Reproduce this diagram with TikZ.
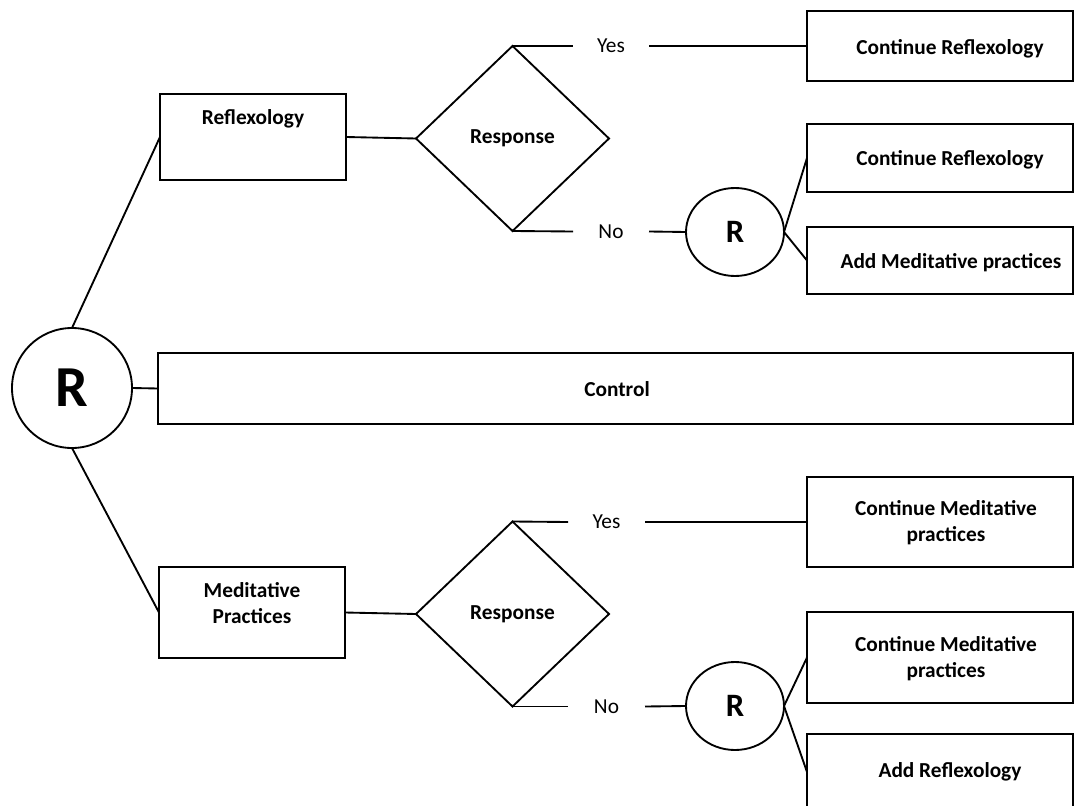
\documentclass[tikz,border=0pt]{standalone}
\usepackage{fontspec}
\setmainfont{Carlito}
\usetikzlibrary{shapes.geometric}
\begin{document}
\begin{tikzpicture}[x=0.75pt,y=-0.75pt,line width=1.4pt,
  every node/.style={outer sep=0pt},
  box/.style={draw,rectangle,inner sep=0pt},
  lbl/.style={font=\fontsize{16}{19.5}\selectfont\bfseries,align=center,inner sep=0pt},
  gap/.style={font=\fontsize{16}{19.5}\selectfont,inner sep=0pt,minimum height=12pt},
  dec/.style={draw,diamond,inner sep=0pt,minimum width=144.75pt,minimum height=138.75pt,font=\fontsize{16}{19.5}\selectfont\bfseries},
  rnd/.style={draw,ellipse,inner sep=0pt,minimum width=73.5pt,minimum height=66pt,font=\fontsize{24.5}{28}\selectfont\bfseries},
  bigrnd/.style={draw,circle,inner sep=0pt,minimum size=90pt,font=\fontsize{43.5}{48}\selectfont\bfseries},
  rbox/.style={box,minimum width=199.5pt}
]
\useasboundingbox (0,0) rectangle (1074,806);

% root
\node[bigrnd] (C) at (72,388) {R};

% upper branch
\node[box,minimum width=139.5pt,minimum height=64.5pt] (refl) at (253,137) {};
\node[lbl] (refltxt) at (253,119) {Reflexology};
\node[dec] (d1) at (512.5,138.5) {Response};
\node[gap,minimum width=57pt] (yes1) at (611,46) {Yes};
\node[gap,minimum width=57pt] (no1) at (611,231.5) {No};
\node[rbox,minimum height=52.5pt] (cr1) at (940,46) {};
\node[lbl] (cr1txt) at (950,49) {Continue Reflexology};
\node[rnd] (e1) at (735,232) {R};
\node[rbox,minimum height=51pt] (cr2) at (940,158) {};
\node[lbl] (cr2txt) at (950,160) {Continue Reflexology};
\node[rbox,minimum height=50.25pt] (amp) at (940,260.5) {};
\node[lbl] (amptxt) at (951,263) {Add Meditative practices};

% control
\node[box,minimum width=686.25pt,minimum height=53.25pt] (ctrl) at (615.5,388.5) {};
\node[lbl] (ctrltxt) at (617,389) {Control};

% lower branch
\node[box,minimum width=139.5pt,minimum height=68.25pt] (med) at (252,612.5) {};
\node[lbl] (medtxt) at (252,603.5) {Meditative\\Practices};
\node[dec] (d2) at (512.5,614) {Response};
\node[gap,minimum width=57.75pt] (yes2) at (606.5,522) {Yes};
\node[gap,minimum width=57.75pt] (no2) at (606.5,706.5) {No};
\node[rbox,minimum height=67.5pt] (cmp1) at (940,522) {};
\node[lbl] (cmp1txt) at (946,522.5) {Continue Meditative\\practices};
\node[rnd] (e2) at (735,706) {R};
\node[rbox,minimum height=68.25pt] (cmp2) at (940,657.5) {};
\node[lbl] (cmp2txt) at (946,659) {Continue Meditative\\practices};
\node[rbox,minimum height=57pt] (ar) at (940,772) {};
\node[lbl] (artxt) at (950,772) {Add Reflexology};

% connectors
\draw (C.north) -- (refl.west);
\draw (C.east) -- (ctrl.west);
\draw (C.south) -- (med.west);

\draw (refl.east) -- (d1.west);
\draw (d1.north) -- (yes1.west);
\draw (yes1.east) -- (cr1.west);
\draw (d1.south) -- (no1.west);
\draw (no1.east) -- (e1.west);
\draw (e1.east) -- (cr2.west);
\draw (e1.east) -- (amp.west);

\draw (med.east) -- (d2.west);
\draw (d2.north) -- (yes2.west);
\draw (yes2.east) -- (cmp1.west);
\draw (d2.south) -- (no2.west);
\draw (no2.east) -- (e2.west);
\draw (e2.east) -- (cmp2.west);
\draw (e2.east) -- (ar.west);
\end{tikzpicture}
\end{document}
